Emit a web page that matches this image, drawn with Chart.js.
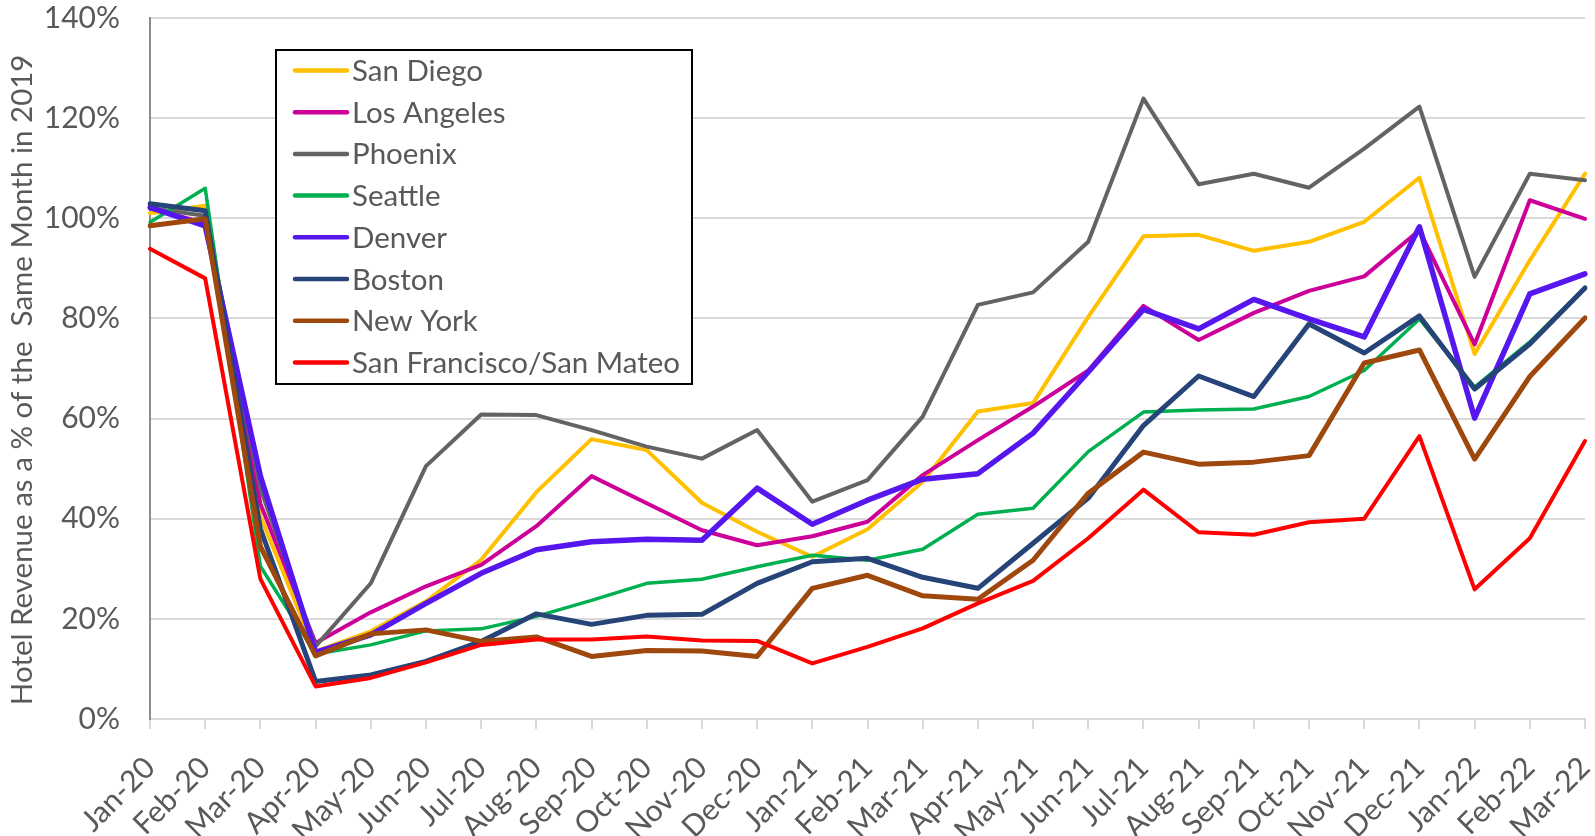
<!DOCTYPE html>
<html>
<head>
<meta charset="utf-8">
<script src="https://cdn.jsdelivr.net/npm/chart.js@4/dist/chart.umd.min.js"></script>
<style>
  html, body { margin: 0; padding: 0; background: #ffffff; }
  canvas { display: block; }
</style>
</head>
<body>
<canvas id="chart" width="1595" height="836"></canvas>
<script>
// Months on the category axis
const months = ['Jan-20','Feb-20','Mar-20','Apr-20','May-20','Jun-20','Jul-20','Aug-20','Sep-20','Oct-20','Nov-20','Dec-20',
  'Jan-21','Feb-21','Mar-21','Apr-21','May-21','Jun-21','Jul-21','Aug-21','Sep-21','Oct-21','Nov-21','Dec-21',
  'Jan-22','Feb-22','Mar-22'];

// Hotel revenue as a % of the same month in 2019
const sanDiego    = [101, 102.5, 40.5, 13.5, 17.5, 23.5, 31.8, 45.3, 55.9, 53.7, 43.2, 37.4, 32.4, 37.9, 47.4, 61.4, 63.1, 80.3, 96.4, 96.7, 93.5, 95.3, 99.3, 108.1, 72.9, 91.6, 108.9];
const losAngeles  = [102, 99, 43, 15.2, 21.3, 26.5, 30.8, 38.5, 48.5, 43.1, 37.7, 34.7, 36.5, 39.4, 48.7, 55.7, 62.4, 69.6, 82.5, 75.7, 81.1, 85.5, 88.4, 97.6, 74.8, 103.6, 99.9];
const phoenix     = [102, 100.5, 46, 14.5, 27.1, 50.5, 60.8, 60.7, 57.7, 54.4, 52, 57.7, 43.4, 47.7, 60.4, 82.7, 85.2, 95.3, 123.9, 106.8, 108.9, 106.1, 113.9, 122.3, 88.3, 108.9, 107.6];
const seattle     = [99.2, 106, 30.5, 13, 14.8, 17.6, 18, 20.5, 23.7, 27.1, 27.9, 30.4, 32.7, 31.7, 33.9, 40.9, 42.1, 53.4, 61.3, 61.7, 61.9, 64.4, 69.6, 79.9, 66.3, 75.3, 86.2];
const denver      = [102.2, 98.5, 48.5, 13.3, 16.8, 23.1, 29.1, 33.8, 35.4, 35.9, 35.7, 46.1, 38.9, 43.7, 47.9, 49, 57.1, 69.3, 81.8, 77.9, 83.8, 79.9, 76.3, 98.3, 60.1, 84.9, 88.9];
const boston      = [102.9, 101.5, 38, 7.5, 8.8, 11.5, 15.5, 21, 18.9, 20.7, 20.9, 27.1, 31.4, 32.1, 28.3, 26.1, 35.1, 44.1, 58.6, 68.5, 64.4, 78.9, 73.1, 80.5, 65.9, 74.9, 86.1];
const newYork     = [98.5, 99.9, 34.5, 12.6, 17, 17.8, 15.5, 16.4, 12.5, 13.7, 13.6, 12.5, 26.1, 28.7, 24.6, 23.9, 31.7, 45.1, 53.3, 50.9, 51.3, 52.6, 71.1, 73.7, 51.9, 68.4, 80.1];
const sanFrancisco= [93.9, 88, 28, 6.5, 8.2, 11.3, 14.8, 15.9, 15.9, 16.5, 15.7, 15.6, 11.1, 14.4, 18.1, 23.1, 27.6, 36.1, 45.8, 37.3, 36.8, 39.3, 40, 56.5, 25.9, 36.1, 55.5];

const seriesNames = ['San Diego','Los Angeles','Phoenix','Seattle','Denver','Boston','New York','San Francisco/San Mateo'];
const seriesData  = [sanDiego, losAngeles, phoenix, seattle, denver, boston, newYork, sanFrancisco];
const seriesColors = ['#FFC000','#CC0099','#636363','#00B050','#5517EE','#264478','#9E480E','#FF0000'];
const seriesWidths = [4, 4, 4, 3.5, 5.5, 5, 5, 4];

const yTicks = { min: 0, max: 140, step: 20 };
const yTitle = 'Hotel Revenue as a % of the  Same Month in 2019   ';

const FONT = 'Lato, "Open Sans", "Liberation Sans", sans-serif';
const TEXT = '#595959';

// Boxed legend inside the plot, top left
const boxLegend = {
  id: 'boxLegend',
  afterDatasetsDraw(chart) {
    const ctx = chart.ctx;
    const x0 = 276, y0 = 50, w = 416, h = 334;
    const rowTop = 70.5, rowGap = 41.7;
    ctx.save();
    ctx.fillStyle = '#ffffff';
    ctx.fillRect(x0, y0, w, h);
    ctx.strokeStyle = '#000000';
    ctx.lineWidth = 2;
    ctx.strokeRect(x0, y0, w, h);
    ctx.font = '29.5px ' + FONT;
    ctx.textBaseline = 'middle';
    ctx.textAlign = 'left';
    chart.data.datasets.forEach((ds, i) => {
      const y = rowTop + i * rowGap;
      ctx.strokeStyle = ds.borderColor;
      ctx.lineWidth = 4.5;
      ctx.lineCap = 'round';
      ctx.beginPath();
      ctx.moveTo(295, y);
      ctx.lineTo(347, y);
      ctx.stroke();
      ctx.fillStyle = TEXT;
      ctx.fillText(ds.label, 352, y + 1);
    });
    ctx.restore();
  }
};

new Chart(document.getElementById('chart'), {
  type: 'line',
  data: {
    labels: months,
    datasets: seriesNames.map((name, i) => ({
      label: name,
      data: seriesData[i],
      borderColor: seriesColors[i],
      backgroundColor: seriesColors[i],
      borderWidth: seriesWidths[i],
      pointRadius: 0,
      tension: 0,
      fill: false,
      borderJoinStyle: 'round',
      borderCapStyle: 'round',
      order: seriesNames.length - i
    }))
  },
  options: {
    responsive: false,
    animation: false,
    layout: { padding: { top: 18, right: 10, bottom: 0, left: 0 } },
    plugins: { legend: { display: false }, tooltip: { enabled: false } },
    scales: {
      x: {
        type: 'category',
        offset: false,
        grid: { drawOnChartArea: false, drawTicks: true, tickLength: 10, color: '#D9D9D9', lineWidth: 2 },
        border: { color: '#D9D9D9', width: 2 },
        ticks: {
          autoSkip: false, maxRotation: 45, minRotation: 45, padding: 21,
          color: TEXT, font: { family: FONT, size: 30 }
        },
        afterFit(scale) { scale.height = 117; scale.paddingLeft = 0; scale.paddingRight = 0; }
      },
      y: {
        min: yTicks.min, max: yTicks.max,
        grid: { color: '#D9D9D9', lineWidth: 2, drawTicks: false },
        border: { color: '#8C8C8C', width: 2 },
        ticks: {
          stepSize: yTicks.step, padding: 30, color: TEXT,
          font: { family: FONT, size: 30 },
          callback: v => v + '%'
        },
        title: {
          display: true, text: yTitle, color: TEXT,
          font: { family: FONT, size: 29.5 },
          padding: { top: 5, bottom: 0 }
        },
        afterFit(scale) { scale.width = 150; scale.paddingTop = 0; scale.paddingBottom = 0; }
      }
    }
  },
  plugins: [boxLegend]
});
</script>
</body>
</html>
